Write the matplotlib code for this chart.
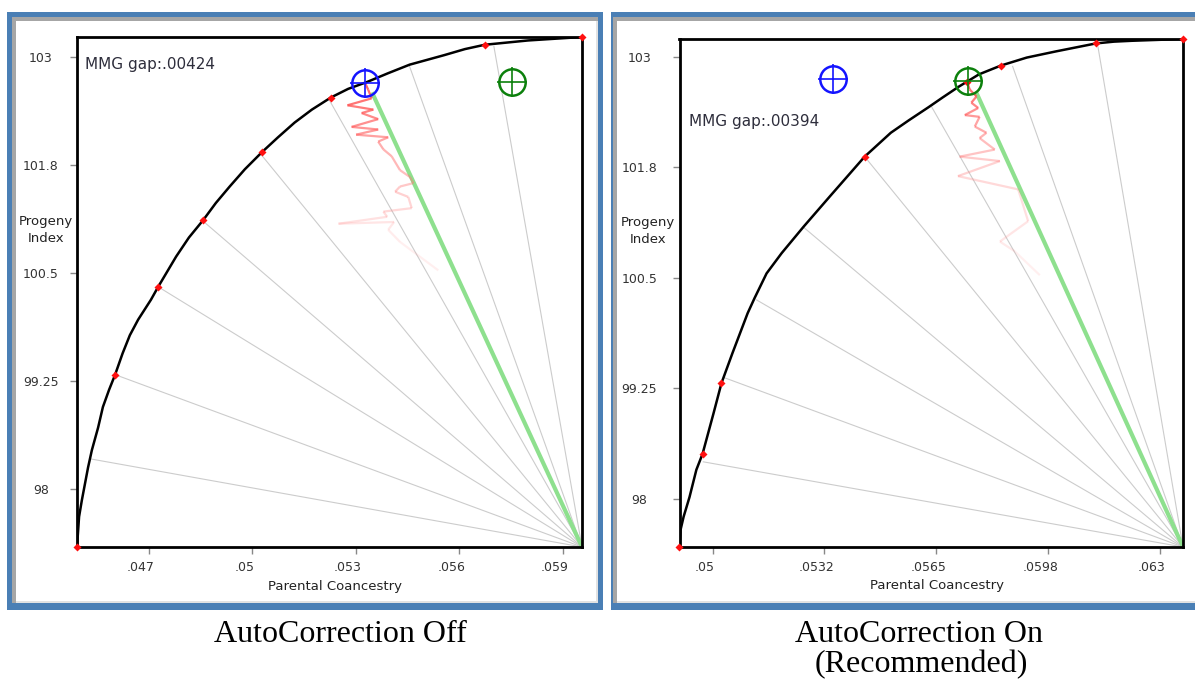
import numpy as np
import matplotlib.pyplot as plt
from matplotlib.patches import Rectangle
from matplotlib.collections import LineCollection
from matplotlib.transforms import ScaledTranslation

# ---- AutoCorrection Off panel ----
off_curve_x = [0.04493, 0.04499, 0.04507, 0.04525, 0.04536, 0.04554, 0.04568, 0.04586,
               0.04603, 0.04625, 0.04646, 0.04670, 0.04707, 0.04728, 0.04780, 0.04817,
               0.04858, 0.04895, 0.04935, 0.04979, 0.05029, 0.05075, 0.05123, 0.05173,
               0.05228, 0.05278, 0.05333, 0.05393, 0.05456, 0.05556, 0.05616, 0.05673,
               0.05799, 0.05877, 0.05955]
off_curve_y = [97.33, 97.68, 97.87, 98.25, 98.45, 98.71, 98.95, 99.15,
               99.32, 99.57, 99.78, 99.96, 100.19, 100.34, 100.69, 100.91,
               101.11, 101.31, 101.50, 101.70, 101.90, 102.07, 102.24, 102.39,
               102.53, 102.63, 102.71, 102.81, 102.91, 103.02, 103.09, 103.14,
               103.19, 103.21, 103.23]
off_dots_x = [0.04493, 0.04603, 0.04728, 0.04858, 0.05029, 0.05228, 0.05674, 0.05955]
off_dots_y = [97.33, 99.32, 100.34, 101.11, 101.90, 102.53, 103.14, 103.23]
off_rays_x = [0.04531, 0.04606, 0.04728, 0.04858, 0.05026, 0.05225, 0.05454, 0.05700]
off_rays_y = [98.35, 99.32, 100.34, 101.10, 101.87, 102.49, 102.91, 103.12]
off_green_end = (0.05347, 102.59)
off_walk_x = [0.05327, 0.05336, 0.05346, 0.05276, 0.05351, 0.05317, 0.05365, 0.05288,
              0.05365, 0.05301, 0.05394, 0.05365, 0.05380, 0.05404, 0.05428, 0.05457,
              0.05467, 0.05428, 0.05414, 0.05452, 0.05462, 0.05380, 0.05391, 0.05250,
              0.05411, 0.05394, 0.05428, 0.05539]
off_walk_y = [102.70, 102.62, 102.52, 102.44, 102.39, 102.35, 102.28, 102.19,
              102.16, 102.10, 102.07, 102.02, 101.93, 101.85, 101.69, 101.61,
              101.54, 101.50, 101.44, 101.38, 101.25, 101.21, 101.15, 101.07,
              101.09, 101.00, 100.86, 100.53]
off_blue = (0.05327, 102.70)
off_greenc = (0.05752, 102.71)
off_xticks = [0.047, 0.050, 0.053, 0.056, 0.059]
off_xlabels = ['.047', '.05', '.053', '.056', '.059']
off_gap = 'MMG gap:.00424'

# ---- AutoCorrection On panel ----
on_curve_x = [0.04904, 0.04907, 0.04916, 0.04933, 0.04953, 0.04971, 0.05003, 0.05026,
              0.05058, 0.05102, 0.05122, 0.05157, 0.05201, 0.05265, 0.05343,
              0.05442, 0.05518, 0.05570, 0.05628, 0.05669, 0.05715, 0.05774, 0.05838,
              0.05913, 0.05998, 0.06114, 0.06166, 0.06219, 0.06367]
on_curve_y = [97.457, 97.65, 97.80, 98.02, 98.33, 98.51, 98.97, 99.31,
              99.65, 100.10, 100.27, 100.55, 100.78, 101.08, 101.43,
              101.87, 102.14, 102.28, 102.43, 102.54, 102.66, 102.80, 102.90,
              102.99, 103.06, 103.15, 103.17, 103.18, 103.20]
on_dots_x = [0.04904, 0.04971, 0.05026, 0.05442, 0.05739, 0.05838, 0.06114, 0.06367]
on_dots_y = [97.457, 98.51, 99.31, 101.87, 102.71, 102.90, 103.15, 103.20]
on_rays_x = [0.04973, 0.05035, 0.05128, 0.05265, 0.05442, 0.05637, 0.05872, 0.06120]
on_rays_y = [98.42, 99.37, 100.25, 101.07, 101.87, 102.43, 102.89, 103.11]
on_green_end = (0.05767, 102.59)
on_walk_x = [0.05738, 0.05747, 0.05767, 0.05752, 0.05772, 0.05733, 0.05776, 0.05762,
             0.05796, 0.05776, 0.05820, 0.05718, 0.05835, 0.05713, 0.05888, 0.05917,
             0.05835, 0.05878, 0.05951]
on_walk_y = [102.74, 102.63, 102.55, 102.48, 102.42, 102.34, 102.32, 102.21,
             102.14, 102.08, 101.95, 101.87, 101.82, 101.65, 101.50, 101.14,
             100.91, 100.80, 100.53]
on_blue = (0.05350, 102.75)
on_greenc = (0.05742, 102.73)
on_xticks = [0.05, 0.05325, 0.0565, 0.05975, 0.063]
on_xlabels = ['.05', '.0532', '.0565', '.0598', '.063']
on_gap = 'MMG gap:.00394'

yticks = [98, 99.25, 100.5, 101.75, 103]
ylabels = ['98', '99.25', '100.5', '101.8', '103']

W, H = 1195, 680
fig = plt.figure(figsize=(W / 100, H / 100), dpi=100)


def box(x0, y0, x1, y1, color):
    fig.add_artist(Rectangle((x0 / W, 1 - y1 / H), (x1 - x0) / W, (y1 - y0) / H,
                             transform=fig.transFigure, facecolor=color,
                             edgecolor='none', zorder=0))


def frame(x0, y0, x1, y1, lt=5):
    box(x0, y0, x1, y1, '#4a7fb5')
    box(x0 + lt, y0 + 5, x1 - 5, y1 - 7, '#e2e2e2')
    box(x0 + lt, y0 + 5, x1 - 5, y0 + 9, '#a6a6a6')
    box(x0 + lt, y0 + 5, x0 + lt + 4, y1 - 7, '#a6a6a6')
    box(x0 + lt + 4, y0 + 9, x1 - 7, y1 - 9, 'white')


frame(7, 12, 603, 610)
frame(611, 12, 1210, 610, lt=2)


def panel(rect, cx, cy, dx, dy, rx, ry, gend, wx, wy, blue, greenc,
          xt, xl, gap, gap_pos, ypad, ylab_x):
    ax = fig.add_axes(rect)
    ax.set_facecolor('white')
    x0, y0 = cx[-1], cy[0]
    for x, y in zip(rx, ry):
        ax.plot([x0, x], [y0, y], color='#cccccc', lw=0.8, zorder=1)
    ax.plot([x0, gend[0]], [y0, gend[1]], color='#8ee08e', lw=3, zorder=2,
            solid_capstyle='butt')
    pts = np.column_stack([wx, wy])
    segs = np.stack([pts[:-1], pts[1:]], axis=1)
    n = len(segs)
    cols = np.zeros((n, 4))
    cols[:, 0] = 1.0
    cols[:, 1] = np.linspace(0.3, 0.6, n)
    cols[:, 2] = np.linspace(0.3, 0.6, n)
    cols[:, 3] = np.linspace(0.85, 0.15, n)
    ax.add_collection(LineCollection(segs, colors=cols, linewidths=1.6, zorder=3))
    ax.plot(cx, cy, color='black', lw=1.8, zorder=4)
    ax.plot(dx, dy, 'D', color='#ff1010', ms=4, mec='none', zorder=5, clip_on=False)
    for (px, py), c in ((blue, '#1414ff'), (greenc, '#0c800c')):
        ax.plot(px, py, 'o', ms=19, mfc='none', mec=c, mew=1.8, zorder=6)
        ax.plot(px, py, '+', ms=21, mec=c, mew=1.2, zorder=6)
    ax.set_xlim(cx[0], cx[-1])
    ax.set_ylim(cy[0], cy[-1])
    ax.set_xticks(xt)
    ax.set_xticklabels(xl)
    ax.set_yticks(yticks)
    ax.set_yticklabels(ylabels, ha='center')
    ax.tick_params(direction='out', length=5, width=1, color='#888888',
                   labelsize=9, labelcolor='#333333')
    ax.tick_params(axis='x', pad=5)
    ax.tick_params(axis='y', pad=ypad)
    off = ScaledTranslation(-8 / 100, 0, fig.dpi_scale_trans)
    for lab in ax.get_xticklabels():
        lab.set_transform(lab.get_transform() + off)
    for s in ax.spines.values():
        s.set_linewidth(2)
        s.set_color('black')
    ax.text(gap_pos[0], gap_pos[1], gap, transform=ax.transAxes, fontsize=11,
            ha='left', va='center', color='#2e2e3c')
    ax.text(0.511, -0.0765, 'Parental Coancestry', transform=ax.transAxes,
            fontsize=9.5, ha='center', va='center', color='#222222')
    ax.text(ylab_x, 0.622, 'Progeny\nIndex', transform=ax.transAxes, fontsize=9.5,
            ha='center', va='center', linespacing=1.45, color='#222222')
    return ax


panel([77 / W, 1 - 547 / H, 505 / W, 510 / H], off_curve_x, off_curve_y,
      off_dots_x, off_dots_y, off_rays_x, off_rays_y, off_green_end,
      off_walk_x, off_walk_y, off_blue, off_greenc, off_xticks, off_xlabels,
      off_gap, (0.016, 0.947), 21, -0.061)
panel([679.5 / W, 1 - 547 / H, 503.5 / W, 508 / H], on_curve_x, on_curve_y,
      on_dots_x, on_dots_y, on_rays_x, on_rays_y, on_green_end,
      on_walk_x, on_walk_y, on_blue, on_greenc, on_xticks, on_xlabels,
      on_gap, (0.018, 0.837), 24, -0.0626)

serif = 'Liberation Serif'
fig.text(340 / W, 1 - 642 / H, 'AutoCorrection Off', ha='center', va='baseline',
         fontsize=23, family=serif)
fig.text(919 / W, 1 - 642 / H, 'AutoCorrection On', ha='center', va='baseline',
         fontsize=23, family=serif)
fig.text(921 / W, 1 - 672 / H, '(Recommended)', ha='center', va='baseline',
         fontsize=23, family=serif)

fig.savefig('out.png', dpi=100)
